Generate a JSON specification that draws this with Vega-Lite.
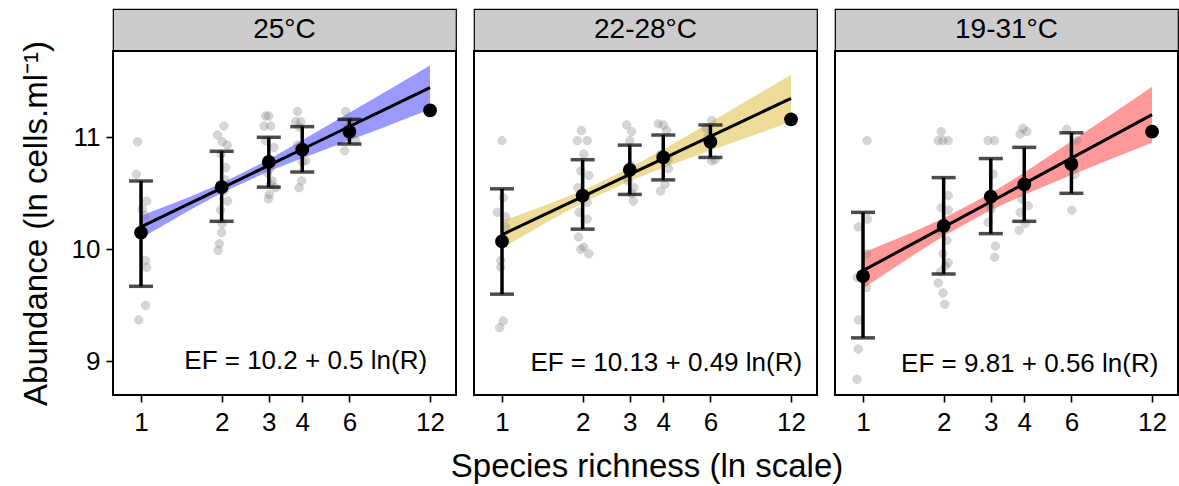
{
  "$schema": "https://vega.github.io/schema/vega-lite/v6.json",
  "padding": {"left": 19, "top": 8, "right": 0, "bottom": 0},
  "title": {"text": "Species richness (ln scale)", "orient": "bottom", "anchor": "middle", "fontSize": 33, "fontWeight": "normal", "font": "Liberation Sans", "color": "black", "offset": 15, "dx": 48},
  "config": {
    "font": "Liberation Sans",
    "view": {"stroke": "black", "strokeWidth": 2},
    "axis": {"grid": false, "domain": false, "tickColor": "black", "tickSize": 7, "tickWidth": 1.6, "labelColor": "black", "labelFontSize": 26, "titleFontSize": 33, "titleFontWeight": "normal", "titleColor": "black", "labelFont": "Liberation Sans", "titleFont": "Liberation Sans"}
  },
  "datasets": {
    "raw": [
      {"T": "25°C", "G": 1, "R": 0.97, "y": 10.96}, {"T": "25°C", "G": 1, "R": 0.96, "y": 10.67}, {"T": "25°C", "G": 1, "R": 1.05, "y": 10.43}, {"T": "25°C", "G": 1, "R": 1.01, "y": 10.36}, {"T": "25°C", "G": 1, "R": 1.035, "y": 10.30}, {"T": "25°C", "G": 1, "R": 1.04, "y": 9.90}, {"T": "25°C", "G": 1, "R": 1.05, "y": 9.84}, {"T": "25°C", "G": 1, "R": 1.04, "y": 9.50}, {"T": "25°C", "G": 1, "R": 0.98, "y": 9.37},
      {"T": "25°C", "G": 2, "R": 2.04, "y": 11.10}, {"T": "25°C", "G": 2, "R": 1.93, "y": 11.02}, {"T": "25°C", "G": 2, "R": 2.01, "y": 10.96}, {"T": "25°C", "G": 2, "R": 2.10, "y": 10.93}, {"T": "25°C", "G": 2, "R": 1.99, "y": 10.85}, {"T": "25°C", "G": 2, "R": 2.07, "y": 10.73}, {"T": "25°C", "G": 2, "R": 2.06, "y": 10.62}, {"T": "25°C", "G": 2, "R": 2.04, "y": 10.52}, {"T": "25°C", "G": 2, "R": 2.10, "y": 10.43}, {"T": "25°C", "G": 2, "R": 1.98, "y": 10.35}, {"T": "25°C", "G": 2, "R": 2.01, "y": 10.23}, {"T": "25°C", "G": 2, "R": 2.0, "y": 10.15}, {"T": "25°C", "G": 2, "R": 1.96, "y": 10.05}, {"T": "25°C", "G": 2, "R": 1.94, "y": 9.99},
      {"T": "25°C", "G": 3, "R": 2.92, "y": 11.19}, {"T": "25°C", "G": 3, "R": 3.0, "y": 11.19}, {"T": "25°C", "G": 3, "R": 2.88, "y": 11.10}, {"T": "25°C", "G": 3, "R": 3.05, "y": 11.10}, {"T": "25°C", "G": 3, "R": 2.92, "y": 10.97}, {"T": "25°C", "G": 3, "R": 3.14, "y": 10.91}, {"T": "25°C", "G": 3, "R": 3.03, "y": 10.72}, {"T": "25°C", "G": 3, "R": 2.97, "y": 10.68}, {"T": "25°C", "G": 3, "R": 3.09, "y": 10.61}, {"T": "25°C", "G": 3, "R": 3.05, "y": 10.58}, {"T": "25°C", "G": 3, "R": 3.18, "y": 10.55}, {"T": "25°C", "G": 3, "R": 3.01, "y": 10.49}, {"T": "25°C", "G": 3, "R": 2.99, "y": 10.45},
      {"T": "25°C", "G": 4, "R": 3.84, "y": 11.23}, {"T": "25°C", "G": 4, "R": 3.78, "y": 11.14}, {"T": "25°C", "G": 4, "R": 3.95, "y": 11.14}, {"T": "25°C", "G": 4, "R": 3.91, "y": 11.09}, {"T": "25°C", "G": 4, "R": 3.84, "y": 10.93}, {"T": "25°C", "G": 4, "R": 4.06, "y": 10.88}, {"T": "25°C", "G": 4, "R": 4.12, "y": 10.79}, {"T": "25°C", "G": 4, "R": 4.0, "y": 10.78}, {"T": "25°C", "G": 4, "R": 3.98, "y": 10.61}, {"T": "25°C", "G": 4, "R": 3.89, "y": 10.55},
      {"T": "25°C", "G": 6, "R": 5.81, "y": 11.23}, {"T": "25°C", "G": 6, "R": 6.07, "y": 11.14}, {"T": "25°C", "G": 6, "R": 5.88, "y": 11.08}, {"T": "25°C", "G": 6, "R": 6.13, "y": 11.05}, {"T": "25°C", "G": 6, "R": 6.33, "y": 10.97}, {"T": "25°C", "G": 6, "R": 5.76, "y": 10.88},
      {"T": "25°C", "G": 12, "R": 12, "y": 11.24},
      {"T": "22-28°C", "G": 1, "R": 1.0, "y": 10.97}, {"T": "22-28°C", "G": 1, "R": 1.01, "y": 10.46}, {"T": "22-28°C", "G": 1, "R": 0.96, "y": 10.33}, {"T": "22-28°C", "G": 1, "R": 1.03, "y": 10.29}, {"T": "22-28°C", "G": 1, "R": 1.03, "y": 10.20}, {"T": "22-28°C", "G": 1, "R": 0.99, "y": 9.90}, {"T": "22-28°C", "G": 1, "R": 0.99, "y": 9.84}, {"T": "22-28°C", "G": 1, "R": 1.01, "y": 9.36}, {"T": "22-28°C", "G": 1, "R": 0.98, "y": 9.30},
      {"T": "22-28°C", "G": 2, "R": 1.98, "y": 11.06}, {"T": "22-28°C", "G": 2, "R": 1.91, "y": 10.97}, {"T": "22-28°C", "G": 2, "R": 2.08, "y": 10.97}, {"T": "22-28°C", "G": 2, "R": 2.02, "y": 10.85}, {"T": "22-28°C", "G": 2, "R": 1.97, "y": 10.70}, {"T": "22-28°C", "G": 2, "R": 2.11, "y": 10.66}, {"T": "22-28°C", "G": 2, "R": 1.92, "y": 10.55}, {"T": "22-28°C", "G": 2, "R": 2.08, "y": 10.42}, {"T": "22-28°C", "G": 2, "R": 1.94, "y": 10.33}, {"T": "22-28°C", "G": 2, "R": 2.08, "y": 10.27}, {"T": "22-28°C", "G": 2, "R": 1.93, "y": 10.11}, {"T": "22-28°C", "G": 2, "R": 2.02, "y": 10.02}, {"T": "22-28°C", "G": 2, "R": 1.97, "y": 10.0}, {"T": "22-28°C", "G": 2, "R": 2.11, "y": 9.96},
      {"T": "22-28°C", "G": 3, "R": 2.92, "y": 11.11}, {"T": "22-28°C", "G": 3, "R": 3.05, "y": 11.05}, {"T": "22-28°C", "G": 3, "R": 3.0, "y": 10.97}, {"T": "22-28°C", "G": 3, "R": 3.02, "y": 10.75}, {"T": "22-28°C", "G": 3, "R": 2.97, "y": 10.68}, {"T": "22-28°C", "G": 3, "R": 2.96, "y": 10.61}, {"T": "22-28°C", "G": 3, "R": 3.11, "y": 10.55}, {"T": "22-28°C", "G": 3, "R": 3.04, "y": 10.50}, {"T": "22-28°C", "G": 3, "R": 3.09, "y": 10.43},
      {"T": "22-28°C", "G": 4, "R": 3.83, "y": 11.12}, {"T": "22-28°C", "G": 4, "R": 4.0, "y": 11.11}, {"T": "22-28°C", "G": 4, "R": 4.12, "y": 11.06}, {"T": "22-28°C", "G": 4, "R": 3.92, "y": 10.85}, {"T": "22-28°C", "G": 4, "R": 4.17, "y": 10.80}, {"T": "22-28°C", "G": 4, "R": 4.18, "y": 10.72}, {"T": "22-28°C", "G": 4, "R": 4.06, "y": 10.58}, {"T": "22-28°C", "G": 4, "R": 3.91, "y": 10.52},
      {"T": "22-28°C", "G": 6, "R": 6.07, "y": 11.15}, {"T": "22-28°C", "G": 6, "R": 5.78, "y": 11.08}, {"T": "22-28°C", "G": 6, "R": 5.88, "y": 11.0}, {"T": "22-28°C", "G": 6, "R": 6.13, "y": 10.95}, {"T": "22-28°C", "G": 6, "R": 6.24, "y": 10.80}, {"T": "22-28°C", "G": 6, "R": 6.07, "y": 10.79},
      {"T": "22-28°C", "G": 12, "R": 12, "y": 11.16},
      {"T": "19-31°C", "G": 1, "R": 1.035, "y": 10.97}, {"T": "19-31°C", "G": 1, "R": 1.04, "y": 10.27}, {"T": "19-31°C", "G": 1, "R": 0.96, "y": 10.20}, {"T": "19-31°C", "G": 1, "R": 1.03, "y": 9.96}, {"T": "19-31°C", "G": 1, "R": 0.95, "y": 9.75}, {"T": "19-31°C", "G": 1, "R": 1.03, "y": 9.66}, {"T": "19-31°C", "G": 1, "R": 0.96, "y": 9.37}, {"T": "19-31°C", "G": 1, "R": 0.96, "y": 9.11}, {"T": "19-31°C", "G": 1, "R": 0.95, "y": 8.84},
      {"T": "19-31°C", "G": 2, "R": 1.96, "y": 11.05}, {"T": "19-31°C", "G": 2, "R": 1.91, "y": 10.97}, {"T": "19-31°C", "G": 2, "R": 1.99, "y": 10.97}, {"T": "19-31°C", "G": 2, "R": 2.08, "y": 10.97}, {"T": "19-31°C", "G": 2, "R": 2.08, "y": 10.48}, {"T": "19-31°C", "G": 2, "R": 1.96, "y": 10.37}, {"T": "19-31°C", "G": 2, "R": 2.08, "y": 10.35}, {"T": "19-31°C", "G": 2, "R": 1.93, "y": 10.17}, {"T": "19-31°C", "G": 2, "R": 2.06, "y": 10.08}, {"T": "19-31°C", "G": 2, "R": 1.99, "y": 9.96}, {"T": "19-31°C", "G": 2, "R": 2.08, "y": 9.88}, {"T": "19-31°C", "G": 2, "R": 2.03, "y": 9.85}, {"T": "19-31°C", "G": 2, "R": 1.95, "y": 9.80}, {"T": "19-31°C", "G": 2, "R": 1.91, "y": 9.70}, {"T": "19-31°C", "G": 2, "R": 1.99, "y": 9.61}, {"T": "19-31°C", "G": 2, "R": 2.02, "y": 9.51},
      {"T": "19-31°C", "G": 3, "R": 2.93, "y": 10.97}, {"T": "19-31°C", "G": 3, "R": 3.10, "y": 10.97}, {"T": "19-31°C", "G": 3, "R": 3.06, "y": 10.67}, {"T": "19-31°C", "G": 3, "R": 2.97, "y": 10.40}, {"T": "19-31°C", "G": 3, "R": 3.01, "y": 10.36}, {"T": "19-31°C", "G": 3, "R": 2.93, "y": 10.24}, {"T": "19-31°C", "G": 3, "R": 3.12, "y": 10.03}, {"T": "19-31°C", "G": 3, "R": 3.10, "y": 9.93},
      {"T": "19-31°C", "G": 4, "R": 3.86, "y": 11.03}, {"T": "19-31°C", "G": 4, "R": 4.09, "y": 11.05}, {"T": "19-31°C", "G": 4, "R": 3.96, "y": 11.08}, {"T": "19-31°C", "G": 4, "R": 3.91, "y": 10.45}, {"T": "19-31°C", "G": 4, "R": 4.14, "y": 10.39}, {"T": "19-31°C", "G": 4, "R": 3.86, "y": 10.33}, {"T": "19-31°C", "G": 4, "R": 4.03, "y": 10.23}, {"T": "19-31°C", "G": 4, "R": 3.83, "y": 10.17},
      {"T": "19-31°C", "G": 6, "R": 5.76, "y": 11.07}, {"T": "19-31°C", "G": 6, "R": 6.28, "y": 10.97}, {"T": "19-31°C", "G": 6, "R": 6.05, "y": 10.80}, {"T": "19-31°C", "G": 6, "R": 6.19, "y": 10.67}, {"T": "19-31°C", "G": 6, "R": 6.02, "y": 10.35},
      {"T": "19-31°C", "G": 12, "R": 12, "y": 11.05}
    ],
    "means": [
      {"T": "25°C", "R": 1, "y": 10.15, "lo": 9.67, "hi": 10.61}, {"T": "25°C", "R": 2, "y": 10.555, "lo": 10.25, "hi": 10.875}, {"T": "25°C", "R": 3, "y": 10.78, "lo": 10.555, "hi": 11.0}, {"T": "25°C", "R": 4, "y": 10.89, "lo": 10.69, "hi": 11.095}, {"T": "25°C", "R": 6, "y": 11.05, "lo": 10.94, "hi": 11.16}, {"T": "25°C", "R": 12, "y": 11.24, "lo": null, "hi": null},
      {"T": "22-28°C", "R": 1, "y": 10.07, "lo": 9.60, "hi": 10.54}, {"T": "22-28°C", "R": 2, "y": 10.48, "lo": 10.18, "hi": 10.80}, {"T": "22-28°C", "R": 3, "y": 10.71, "lo": 10.49, "hi": 10.93}, {"T": "22-28°C", "R": 4, "y": 10.82, "lo": 10.62, "hi": 11.02}, {"T": "22-28°C", "R": 6, "y": 10.96, "lo": 10.82, "hi": 11.11}, {"T": "22-28°C", "R": 12, "y": 11.16, "lo": null, "hi": null},
      {"T": "19-31°C", "R": 1, "y": 9.76, "lo": 9.21, "hi": 10.33}, {"T": "19-31°C", "R": 2, "y": 10.21, "lo": 9.78, "hi": 10.64}, {"T": "19-31°C", "R": 3, "y": 10.47, "lo": 10.14, "hi": 10.81}, {"T": "19-31°C", "R": 4, "y": 10.58, "lo": 10.25, "hi": 10.91}, {"T": "19-31°C", "R": 6, "y": 10.76, "lo": 10.50, "hi": 11.04}, {"T": "19-31°C", "R": 12, "y": 11.05, "lo": null, "hi": null}
    ],
    "fit": [
      {"T": "25°C", "R": 1, "y": 10.2, "lo": 10.10, "hi": 10.30}, {"T": "25°C", "R": 1.5, "y": 10.403, "lo": 10.343, "hi": 10.463}, {"T": "25°C", "R": 2, "y": 10.547, "lo": 10.505, "hi": 10.589}, {"T": "25°C", "R": 3, "y": 10.749, "lo": 10.696, "hi": 10.802}, {"T": "25°C", "R": 4, "y": 10.893, "lo": 10.813, "hi": 10.973}, {"T": "25°C", "R": 6, "y": 11.096, "lo": 10.974, "hi": 11.218}, {"T": "25°C", "R": 8, "y": 11.24, "lo": 11.086, "hi": 11.394}, {"T": "25°C", "R": 12, "y": 11.443, "lo": 11.25, "hi": 11.64},
      {"T": "22-28°C", "R": 1, "y": 10.13, "lo": 10.01, "hi": 10.25}, {"T": "22-28°C", "R": 1.5, "y": 10.329, "lo": 10.252, "hi": 10.406}, {"T": "22-28°C", "R": 2, "y": 10.47, "lo": 10.415, "hi": 10.525}, {"T": "22-28°C", "R": 3, "y": 10.668, "lo": 10.61, "hi": 10.726}, {"T": "22-28°C", "R": 4, "y": 10.809, "lo": 10.727, "hi": 10.891}, {"T": "22-28°C", "R": 6, "y": 11.008, "lo": 10.881, "hi": 11.135}, {"T": "22-28°C", "R": 8, "y": 11.149, "lo": 10.988, "hi": 11.31}, {"T": "22-28°C", "R": 12, "y": 11.348, "lo": 11.138, "hi": 11.558},
      {"T": "19-31°C", "R": 1, "y": 9.81, "lo": 9.65, "hi": 9.97}, {"T": "19-31°C", "R": 1.5, "y": 10.037, "lo": 9.93, "hi": 10.144}, {"T": "19-31°C", "R": 2, "y": 10.198, "lo": 10.119, "hi": 10.277}, {"T": "19-31°C", "R": 3, "y": 10.425, "lo": 10.35, "hi": 10.5}, {"T": "19-31°C", "R": 4, "y": 10.586, "lo": 10.487, "hi": 10.685}, {"T": "19-31°C", "R": 6, "y": 10.814, "lo": 10.664, "hi": 10.964}, {"T": "19-31°C", "R": 8, "y": 10.974, "lo": 10.783, "hi": 11.165}, {"T": "19-31°C", "R": 12, "y": 11.202, "lo": 10.952, "hi": 11.452}
    ],
    "labels": [
      {"T": "25°C", "R": 11.7, "y": 9.0, "label": "EF = 10.2 + 0.5 ln(R)"},
      {"T": "22-28°C", "R": 13.2, "y": 8.99, "label": "EF = 10.13 + 0.49 ln(R)"},
      {"T": "19-31°C", "R": 12.67, "y": 8.98, "label": "EF = 9.81 + 0.56 ln(R)"}
    ]
  },
  "spacing": 16,
  "hconcat": [
    {
      "spacing": 0,
      "bounds": "flush",
      "vconcat": [
        {"width": 343, "height": 42, "view": {"fill": "#cccccc", "stroke": "black", "strokeWidth": 1.2}, "data": {"values": [{"T": "25°C"}]}, "mark": {"type": "text", "fontSize": 28, "color": "black"}, "encoding": {"text": {"field": "T"}}},
        {
          "width": 343, "height": 344,
          "layer": [
            {"data": {"name": "fit"}, "transform": [{"filter": "datum.T === '25°C'"}], "mark": {"type": "area", "color": "#9999ff", "opacity": 1},
             "encoding": {"x": {"field": "R", "type": "quantitative", "scale": {"type": "log", "domain": [0.786, 15.0], "nice": false}, "axis": {"values": [1, 2, 3, 4, 6, 12], "format": "d", "title": null, "labelPadding": 7}},
                          "y": {"field": "lo", "type": "quantitative", "title": "Abundance (ln cells.ml⁻¹)", "scale": {"domain": [8.70, 11.77], "nice": false, "zero": false}, "axis": {"values": [9, 10, 11], "format": "d", "title": "Abundance (ln cells.ml⁻¹)", "titlePadding": 18, "labelPadding": 6}},
                          "y2": {"field": "hi"}}},
            {"data": {"name": "raw"}, "transform": [{"filter": "datum.T === '25°C'"}], "mark": {"type": "circle", "size": 70, "color": "#808080", "opacity": 0.32, "stroke": "#707070", "strokeWidth": 1},
             "encoding": {"x": {"field": "R", "type": "quantitative", "title": null},
                          "y": {"field": "y", "type": "quantitative", "title": "Abundance (ln cells.ml⁻¹)"}}},
            {"data": {"name": "fit"}, "transform": [{"filter": "datum.T === '25°C'"}], "mark": {"type": "line", "color": "black", "strokeWidth": 3},
             "encoding": {"x": {"field": "R", "type": "quantitative", "title": null}, "y": {"field": "y", "type": "quantitative", "title": "Abundance (ln cells.ml⁻¹)"}}},
            {"data": {"name": "means"}, "transform": [{"filter": "datum.T === '25°C' && datum.lo != null"}], "mark": {"type": "errorbar", "color": "black", "thickness": 3.5, "ticks": {"size": 24, "thickness": 3.5, "color": "black"}, "rule": {"strokeWidth": 3.5, "color": "black"}},
             "encoding": {"x": {"field": "R", "type": "quantitative", "title": null}, "y": {"field": "lo", "type": "quantitative", "title": "Abundance (ln cells.ml⁻¹)"}, "y2": {"field": "hi"}}},
            {"data": {"name": "means"}, "transform": [{"filter": "datum.T === '25°C'"}], "mark": {"type": "circle", "size": 190, "color": "black", "opacity": 1},
             "encoding": {"x": {"field": "R", "type": "quantitative", "title": null}, "y": {"field": "y", "type": "quantitative", "title": "Abundance (ln cells.ml⁻¹)"}}},
            {"data": {"name": "labels"}, "transform": [{"filter": "datum.T === '25°C'"}], "mark": {"type": "text", "align": "right", "baseline": "middle", "fontSize": 26, "color": "black"},
             "encoding": {"x": {"field": "R", "type": "quantitative", "title": null}, "y": {"field": "y", "type": "quantitative", "title": "Abundance (ln cells.ml⁻¹)"}, "text": {"field": "label"}}}
          ]
        }
      ]
    },
    {
      "spacing": 0,
      "bounds": "flush",
      "vconcat": [
        {"width": 343, "height": 42, "view": {"fill": "#cccccc", "stroke": "black", "strokeWidth": 1.2}, "data": {"values": [{"T": "22-28°C"}]}, "mark": {"type": "text", "fontSize": 28, "color": "black"}, "encoding": {"text": {"field": "T"}}},
        {
          "width": 343, "height": 344,
          "layer": [
            {"data": {"name": "fit"}, "transform": [{"filter": "datum.T === '22-28°C'"}], "mark": {"type": "area", "color": "#eddc98", "opacity": 1},
             "encoding": {"x": {"field": "R", "type": "quantitative", "scale": {"type": "log", "domain": [0.786, 15.0], "nice": false}, "axis": {"values": [1, 2, 3, 4, 6, 12], "format": "d", "title": null, "labelPadding": 7}},
                          "y": {"field": "lo", "type": "quantitative", "scale": {"domain": [8.70, 11.77], "nice": false, "zero": false}, "axis": null},
                          "y2": {"field": "hi"}}},
            {"data": {"name": "raw"}, "transform": [{"filter": "datum.T === '22-28°C'"}], "mark": {"type": "circle", "size": 70, "color": "#808080", "opacity": 0.32, "stroke": "#707070", "strokeWidth": 1},
             "encoding": {"x": {"field": "R", "type": "quantitative", "title": null},
                          "y": {"field": "y", "type": "quantitative", "axis": null}}},
            {"data": {"name": "fit"}, "transform": [{"filter": "datum.T === '22-28°C'"}], "mark": {"type": "line", "color": "black", "strokeWidth": 3},
             "encoding": {"x": {"field": "R", "type": "quantitative", "title": null}, "y": {"field": "y", "type": "quantitative", "axis": null}}},
            {"data": {"name": "means"}, "transform": [{"filter": "datum.T === '22-28°C' && datum.lo != null"}], "mark": {"type": "errorbar", "color": "black", "thickness": 3.5, "ticks": {"size": 24, "thickness": 3.5, "color": "black"}, "rule": {"strokeWidth": 3.5, "color": "black"}},
             "encoding": {"x": {"field": "R", "type": "quantitative", "title": null}, "y": {"field": "lo", "type": "quantitative", "axis": null}, "y2": {"field": "hi"}}},
            {"data": {"name": "means"}, "transform": [{"filter": "datum.T === '22-28°C'"}], "mark": {"type": "circle", "size": 190, "color": "black", "opacity": 1},
             "encoding": {"x": {"field": "R", "type": "quantitative", "title": null}, "y": {"field": "y", "type": "quantitative", "axis": null}}},
            {"data": {"name": "labels"}, "transform": [{"filter": "datum.T === '22-28°C'"}], "mark": {"type": "text", "align": "right", "baseline": "middle", "fontSize": 26, "color": "black"},
             "encoding": {"x": {"field": "R", "type": "quantitative", "title": null}, "y": {"field": "y", "type": "quantitative", "axis": null}, "text": {"field": "label"}}}
          ]
        }
      ]
    },
    {
      "spacing": 0,
      "bounds": "flush",
      "vconcat": [
        {"width": 343, "height": 42, "view": {"fill": "#cccccc", "stroke": "black", "strokeWidth": 1.2}, "data": {"values": [{"T": "19-31°C"}]}, "mark": {"type": "text", "fontSize": 28, "color": "black"}, "encoding": {"text": {"field": "T"}}},
        {
          "width": 343, "height": 344,
          "layer": [
            {"data": {"name": "fit"}, "transform": [{"filter": "datum.T === '19-31°C'"}], "mark": {"type": "area", "color": "#ff9999", "opacity": 1},
             "encoding": {"x": {"field": "R", "type": "quantitative", "scale": {"type": "log", "domain": [0.786, 15.0], "nice": false}, "axis": {"values": [1, 2, 3, 4, 6, 12], "format": "d", "title": null, "labelPadding": 7}},
                          "y": {"field": "lo", "type": "quantitative", "scale": {"domain": [8.70, 11.77], "nice": false, "zero": false}, "axis": null},
                          "y2": {"field": "hi"}}},
            {"data": {"name": "raw"}, "transform": [{"filter": "datum.T === '19-31°C'"}], "mark": {"type": "circle", "size": 70, "color": "#808080", "opacity": 0.32, "stroke": "#707070", "strokeWidth": 1},
             "encoding": {"x": {"field": "R", "type": "quantitative", "title": null},
                          "y": {"field": "y", "type": "quantitative", "axis": null}}},
            {"data": {"name": "fit"}, "transform": [{"filter": "datum.T === '19-31°C'"}], "mark": {"type": "line", "color": "black", "strokeWidth": 3},
             "encoding": {"x": {"field": "R", "type": "quantitative", "title": null}, "y": {"field": "y", "type": "quantitative", "axis": null}}},
            {"data": {"name": "means"}, "transform": [{"filter": "datum.T === '19-31°C' && datum.lo != null"}], "mark": {"type": "errorbar", "color": "black", "thickness": 3.5, "ticks": {"size": 24, "thickness": 3.5, "color": "black"}, "rule": {"strokeWidth": 3.5, "color": "black"}},
             "encoding": {"x": {"field": "R", "type": "quantitative", "title": null}, "y": {"field": "lo", "type": "quantitative", "axis": null}, "y2": {"field": "hi"}}},
            {"data": {"name": "means"}, "transform": [{"filter": "datum.T === '19-31°C'"}], "mark": {"type": "circle", "size": 190, "color": "black", "opacity": 1},
             "encoding": {"x": {"field": "R", "type": "quantitative", "title": null}, "y": {"field": "y", "type": "quantitative", "axis": null}}},
            {"data": {"name": "labels"}, "transform": [{"filter": "datum.T === '19-31°C'"}], "mark": {"type": "text", "align": "right", "baseline": "middle", "fontSize": 26, "color": "black"},
             "encoding": {"x": {"field": "R", "type": "quantitative", "title": null}, "y": {"field": "y", "type": "quantitative", "axis": null}, "text": {"field": "label"}}}
          ]
        }
      ]
    }
  ]
}
